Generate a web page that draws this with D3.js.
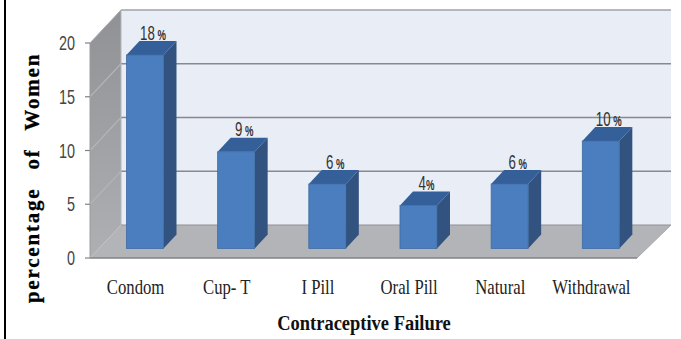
<!DOCTYPE html>
<html>
<head>
<meta charset="utf-8">
<script src="https://cdnjs.cloudflare.com/ajax/libs/d3/7.8.5/d3.min.js"></script>
<style>
html,body{margin:0;padding:0;background:#fff;}
svg{display:block;}
</style>
</head>
<body>
<svg id="chart" width="681" height="339"></svg>
<script>
const categories = ["Condom", "Cup- T", "I Pill", "Oral Pill", "Natural", "Withdrawal"];
const percentages = [18, 9, 6, 4, 6, 10];
const valueLabels = ["18", "9", "6", "4", "6", "10"];
const yTicks = [0, 5, 10, 15, 20];

const svg = d3.select("#chart");
const defs = svg.append("defs");

// Front edge of the 3D box, and how far its back plane is pushed.
const x = d3.scaleBand().domain(categories).range([90, 637]).paddingInner(0.594).paddingOuter(0.297);
const y = d3.scaleLinear().domain([0, 20]).range([258, 43]);
const depth = {dx: 31, dy: -33};
const barShift = {dx: 9.4, dy: -9.5};
const barDepth = {dx: 13, dy: -14};
const poly = pts => pts.map(p => p.join(",")).join(" ");

const wallGrad = defs.append("linearGradient").attr("id", "sideWall")
  .attr("x1", 0).attr("x2", 0).attr("y1", 0).attr("y2", 1);
wallGrad.append("stop").attr("offset", 0).attr("stop-color", "#8f9194");
wallGrad.append("stop").attr("offset", 1).attr("stop-color", "#aeb0b3");

// Frame rule down the left side of the figure
svg.append("rect").attr("x", 4).attr("y", 0).attr("width", 2).attr("height", 339).attr("fill", "#000");

const x0 = x.range()[0], x1 = x.range()[1];
const backRight = x1 + depth.dx + 3;

// Back wall
svg.append("polygon")
  .attr("points", poly([[x0 + depth.dx, y(20) + depth.dy], [backRight, y(20) + depth.dy], [backRight, y(0) + depth.dy], [x0 + depth.dx, y(0) + depth.dy]]))
  .attr("fill", "#e8edf6");
svg.append("line")
  .attr("x1", x0 + depth.dx).attr("x2", backRight).attr("y1", y(20) + depth.dy).attr("y2", y(20) + depth.dy)
  .attr("stroke", "#a0a2a5").attr("stroke-width", 1.6);

// Side wall
svg.append("polygon")
  .attr("points", poly([[x0, y(20)], [x0 + depth.dx, y(20) + depth.dy], [x0 + depth.dx, y(0) + depth.dy], [x0, y(0)]]))
  .attr("fill", "url(#sideWall)");

// Floor
svg.append("polygon")
  .attr("points", poly([[x0, y(0)], [x0 + depth.dx, y(0) + depth.dy], [backRight, y(0) + depth.dy], [x1, y(0)]]))
  .attr("fill", "#b2b4b7");

// Gridlines: a lighter run on the side wall, then across the back wall
const inner = yTicks.filter(d => d > 0 && d < 20);
svg.append("g").selectAll("line").data(inner).join("line")
  .attr("x1", x0).attr("y1", d => y(d))
  .attr("x2", x0 + depth.dx).attr("y2", d => y(d) + depth.dy)
  .attr("stroke", "#b3b5b8").attr("stroke-width", 1.1);
svg.append("g").selectAll("line").data(inner).join("line")
  .attr("x1", x0 + depth.dx).attr("y1", d => y(d) + depth.dy)
  .attr("x2", backRight).attr("y2", d => y(d) + depth.dy)
  .attr("stroke", "#87898c").attr("stroke-width", 1.5);
svg.append("line")
  .attr("x1", x0 + depth.dx).attr("x2", x0 + depth.dx).attr("y1", y(20) + depth.dy).attr("y2", y(0) + depth.dy)
  .attr("stroke", "#b5b7ba");
svg.append("line")
  .attr("x1", x0 + depth.dx).attr("x2", backRight).attr("y1", y(0) + depth.dy).attr("y2", y(0) + depth.dy)
  .attr("stroke", "#8f9194").attr("stroke-width", 1.2);
svg.append("line")
  .attr("x1", x0 + depth.dx).attr("y1", y(20) + depth.dy).attr("x2", x0).attr("y2", y(20))
  .attr("stroke", "#a6a8ab");

// Front axis lines and tick marks
svg.append("line").attr("x1", x0).attr("x2", x1).attr("y1", y(0)).attr("y2", y(0))
  .attr("stroke", "#808285").attr("stroke-width", 1.6);
svg.append("line").attr("x1", x1).attr("x2", backRight).attr("y1", y(0)).attr("y2", y(0) + depth.dy)
  .attr("stroke", "#a6a8ab");
svg.append("line").attr("x1", x0).attr("x2", x0).attr("y1", y(0)).attr("y2", y(20))
  .attr("stroke", "#9a9c9f");
svg.append("g").selectAll("line").data(yTicks).join("line")
  .attr("x1", x0 - 5).attr("x2", x0).attr("y1", d => y(d)).attr("y2", d => y(d))
  .attr("stroke", "#808285").attr("stroke-width", 1.2);

// Bars: front, side and top faces
const bars = svg.append("g").selectAll("g").data(categories).join("g");
const bx = d => x(d) + barShift.dx;
const val = i => y(percentages[i]) + barShift.dy;
const base = y(0) + barShift.dy;
const w = x.bandwidth();
bars.append("polygon").attr("fill", "#32527f")
  .attr("points", (d, i) => poly([[bx(d) + w, val(i)], [bx(d) + w + barDepth.dx, val(i) + barDepth.dy], [bx(d) + w + barDepth.dx, base + barDepth.dy], [bx(d) + w, base]]));
bars.append("polygon").attr("fill", "#355f98")
  .attr("points", (d, i) => poly([[bx(d), val(i)], [bx(d) + barDepth.dx, val(i) + barDepth.dy], [bx(d) + w + barDepth.dx, val(i) + barDepth.dy], [bx(d) + w, val(i)]]));
bars.append("rect").attr("fill", "#4b7ebe").attr("stroke", "#3f6ca3").attr("stroke-width", 0.8)
  .attr("x", d => bx(d)).attr("y", (d, i) => val(i)).attr("width", w).attr("height", (d, i) => base - val(i));

// Horizontally condensed text helper
function squeezed(sel, px, py, str, sx, attrs) {
  const t = sel.append("text")
    .attr("transform", `translate(${px},${py}) scale(${sx},1)`)
    .text(str);
  Object.entries(attrs).forEach(([k, v]) => t.attr(k, v));
  return t;
}

const sans = "'Liberation Sans', sans-serif";
const serif = "'Liberation Serif', serif";

// Value labels above each bar
bars.each(function(d, i) {
  const g = d3.select(this);
  const cx = bx(d) + w / 2 + 8;
  const topY = val(i) + barDepth.dy - 1.5;
  const label = g.append("text")
    .attr("transform", `translate(${cx},${topY}) scale(0.68,1)`)
    .attr("text-anchor", "middle").attr("font-family", sans).attr("font-size", 19.5).attr("fill", "#333");
  label.append("tspan").text(valueLabels[i]);
  label.append("tspan").attr("font-size", 14).attr("font-weight", "bold").attr("dx", i === 3 ? 0 : 4).text("%");
});

// Y tick labels
svg.append("g").selectAll("g").data(yTicks).join("g").each(function(d) {
  squeezed(d3.select(this), 75, y(d) + 7, d, 0.72, {
    "text-anchor": "end", "font-family": sans, "font-size": 20, "fill": "#444"
  });
});

// Category labels
svg.append("g").selectAll("g").data(categories).join("g").each(function(d) {
  squeezed(d3.select(this), x(d) + w / 2, 294, d, 0.76, {
    "text-anchor": "middle", "font-family": serif, "font-size": 22, "fill": "#222"
  });
});

// Axis titles
squeezed(svg, 364, 330, "Contraceptive Failure", 0.84, {
  "text-anchor": "middle", "font-family": serif, "font-weight": "bold", "font-size": 22, "fill": "#111"
});
svg.append("text")
  .attr("transform", "translate(39,178) rotate(-90)")
  .attr("text-anchor", "middle").attr("font-family", serif).attr("font-weight", "bold")
  .attr("font-size", 21).attr("letter-spacing", 1.8).attr("word-spacing", 11).attr("fill", "#000")
  .attr("stroke", "#000").attr("stroke-width", 0.3)
  .text("percentage of Women");
</script>
</body>
</html>
